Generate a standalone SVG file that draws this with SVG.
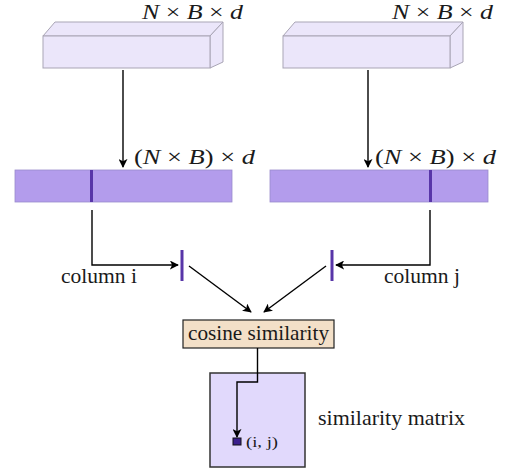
<svg xmlns="http://www.w3.org/2000/svg" width="510" height="474" viewBox="0 0 510 474">
<style>
.face{fill:#ebe6fa;stroke:#a9a5b5;stroke-width:1}
.bar{fill:#b39cec;stroke:#9a8ccc;stroke-width:0.8}
.col{stroke:#5836a8;stroke-width:3}
.ln{fill:none;stroke:#000;stroke-width:1.4}
.t{font-family:"Liberation Serif",serif;font-size:22px;fill:#1a1a1a}
.m{font-family:"Liberation Serif",serif;font-size:22px;fill:#1a1a1a}
.top{font-size:20px}
.it{font-style:italic}
</style>
<defs>
<marker id="ah" viewBox="0 0 10 10" refX="9" refY="5" markerWidth="9" markerHeight="9" markerUnits="userSpaceOnUse" orient="auto">
<path d="M0,0 L10,5 L0,10 L2.5,5 z" fill="#000"/>
</marker>
</defs>
<g id="tensor1">
<polygon class="face" points="43,36 55,22 223,22 210,36"/>
<polygon class="face" points="210,36 223,22 223,62 210,68"/>
<rect class="face" x="43" y="36" width="167" height="32"/>
<text class="m top" x="142" y="19" textLength="101" lengthAdjust="spacingAndGlyphs"><tspan class="it">N</tspan> × <tspan class="it">B</tspan> × <tspan class="it">d</tspan></text>
</g>
<g id="tensor2">
<polygon class="face" points="283,36 295,22 463,22 450,36"/>
<polygon class="face" points="450,36 463,22 463,62 450,68"/>
<rect class="face" x="283" y="36" width="167" height="32"/>
<text class="m top" x="392" y="19" textLength="101" lengthAdjust="spacingAndGlyphs"><tspan class="it">N</tspan> × <tspan class="it">B</tspan> × <tspan class="it">d</tspan></text>
</g>
<g id="bar1">
<rect class="bar" x="15" y="170" width="217" height="32"/>
<line class="col" x1="91.5" y1="170" x2="91.5" y2="202"/>
<text class="m" x="134" y="164" textLength="121" lengthAdjust="spacingAndGlyphs">(<tspan class="it">N</tspan> × <tspan class="it">B</tspan>) × <tspan class="it">d</tspan></text>
</g>
<g id="bar2">
<rect class="bar" x="270" y="170" width="218" height="32"/>
<line class="col" x1="430.5" y1="170" x2="430.5" y2="202"/>
<text class="m" x="375" y="164" textLength="121" lengthAdjust="spacingAndGlyphs">(<tspan class="it">N</tspan> × <tspan class="it">B</tspan>) × <tspan class="it">d</tspan></text>
</g>
<g id="columnI">
<line class="col" x1="182" y1="250" x2="182" y2="281"/>
<text class="t" x="61" y="283" textLength="76" lengthAdjust="spacingAndGlyphs">column i</text>
</g>
<g id="columnJ">
<line class="col" x1="332" y1="250" x2="332" y2="281"/>
<text class="t" x="384" y="283" textLength="76" lengthAdjust="spacingAndGlyphs">column j</text>
</g>
<g id="cosine">
<rect x="183" y="320" width="151" height="28" fill="#f3e0c8" stroke="#222" stroke-width="1.2"/>
<text class="t" x="258.5" y="340" text-anchor="middle" textLength="141" lengthAdjust="spacingAndGlyphs">cosine similarity</text>
</g>
<g id="matrix">
<rect x="210" y="373" width="95" height="94" fill="#e1d9fc" stroke="#333" stroke-width="1.5"/>
<rect x="233" y="438" width="8" height="7" fill="#3a1f8c" stroke="#111" stroke-width="1"/>
<text class="t" x="246" y="447" textLength="32" lengthAdjust="spacingAndGlyphs" style="font-size:15px">(i, j)</text>
<text class="t" x="318" y="425" textLength="147" lengthAdjust="spacingAndGlyphs">similarity matrix</text>
</g>
<g id="connectors">
<line class="ln" x1="123" y1="70" x2="123" y2="167" marker-end="url(#ah)"/>
<line class="ln" x1="368" y1="70" x2="368" y2="167" marker-end="url(#ah)"/>
<polyline class="ln" points="92,210 92,265 178,265" marker-end="url(#ah)"/>
<polyline class="ln" points="430,210 430,265 336,265" marker-end="url(#ah)"/>
<line class="ln" x1="189" y1="266" x2="251" y2="312" marker-end="url(#ah)"/>
<line class="ln" x1="326" y1="266" x2="264" y2="312" marker-end="url(#ah)"/>
<polyline class="ln" points="257.5,348 257.5,382 237,382 237,437" marker-end="url(#ah)"/>
</g>
</svg>
